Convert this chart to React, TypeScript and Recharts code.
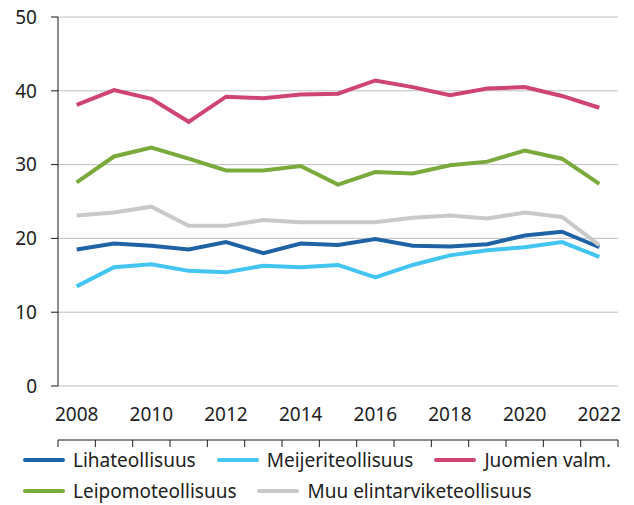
import { LineChart, Line, XAxis, YAxis, CartesianGrid, Legend } from 'recharts';

const YEARS = [2008, 2009, 2010, 2011, 2012, 2013, 2014, 2015, 2016, 2017, 2018, 2019, 2020, 2021, 2022];
const YEAR_LABELS = [2008, 2010, 2012, 2014, 2016, 2018, 2020, 2022];
const Y_TICKS = [0, 10, 20, 30, 40, 50];

const LIHA = [18.5, 19.3, 19.0, 18.5, 19.5, 18.0, 19.3, 19.1, 19.9, 19.0, 18.9, 19.2, 20.4, 20.9, 18.8];
const MEIJERI = [13.5, 16.1, 16.5, 15.6, 15.4, 16.3, 16.1, 16.4, 14.7, 16.4, 17.7, 18.4, 18.8, 19.5, 17.5];
const JUOMAT = [38.1, 40.1, 38.9, 35.8, 39.2, 39.0, 39.5, 39.6, 41.4, 40.5, 39.4, 40.3, 40.5, 39.3, 37.7];
const LEIPOMO = [27.6, 31.1, 32.3, 30.8, 29.2, 29.2, 29.8, 27.3, 29.0, 28.8, 29.9, 30.4, 31.9, 30.8, 27.4];
const MUU = [23.1, 23.5, 24.3, 21.7, 21.7, 22.5, 22.2, 22.2, 22.2, 22.8, 23.1, 22.7, 23.5, 22.9, 19.1];

const SERIES = [
  { key: 'liha', name: 'Lihateollisuus', values: LIHA, color: '#1f63a6' },
  { key: 'meijeri', name: 'Meijeriteollisuus', values: MEIJERI, color: '#43c5f2' },
  { key: 'juomat', name: 'Juomien valm.', values: JUOMAT, color: '#d04473' },
  { key: 'leipomo', name: 'Leipomoteollisuus', values: LEIPOMO, color: '#7aa93c' },
  { key: 'muu', name: 'Muu elintarviketeollisuus', values: MUU, color: '#c9c9c9' },
];

const LEGEND_ROWS = [
  ['liha', 'meijeri', 'juomat'],
  ['leipomo', 'muu'],
];

const data = YEARS.map((year, i) => {
  const row: Record<string, number> = { year };
  SERIES.forEach((s) => {
    row[s.key] = s.values[i];
  });
  return row;
});

// tick marks sit between the years, labels on every other year
const BOUNDARIES = [...YEARS.map((y) => y - 0.5), YEARS[YEARS.length - 1] + 0.5];
const DOMAIN = [BOUNDARIES[0], BOUNDARIES[BOUNDARIES.length - 1]];

const FONT = '"Noto Sans", sans-serif';
const TEXT = '#222';
const AXIS = '#1a1a1a';

function ChartLegend() {
  return (
    <div style={{ height: 64, paddingTop: 3, boxSizing: 'border-box', fontFamily: FONT, fontSize: 19, color: TEXT }}>
      {LEGEND_ROWS.map((row, r) => (
        <div key={r} style={{ display: 'flex', alignItems: 'center', height: 31, paddingLeft: 23, gap: 21 }}>
          {row.map((k) => {
            const s = SERIES.find((x) => x.key === k)!;
            return (
              <div key={k} style={{ display: 'flex', alignItems: 'center', gap: 8 }}>
                <div style={{ width: 42, height: 4, borderRadius: 2, background: s.color }} />
                <span style={{ whiteSpace: 'nowrap' }}>{s.name}</span>
              </div>
            );
          })}
        </div>
      ))}
    </div>
  );
}

export default function App() {
  return (
    <div style={{ position: 'absolute', left: 0, top: 0, width: 634, height: 505, background: '#fff' }}>
      <LineChart width={634} height={505} data={data} margin={{ top: 17, right: 16, left: 0, bottom: 0 }}>
        <CartesianGrid vertical={false} stroke="#bfbfbf" yAxisId="y" xAxisId="marks" />
        <XAxis
          xAxisId="marks"
          dataKey="year"
          type="number"
          domain={DOMAIN}
          ticks={BOUNDARIES}
          interval={0}
          tick={() => <g />}
          tickSize={7}
          height={1}
          axisLine={{ stroke: AXIS }}
          tickLine={{ stroke: AXIS }}
        />
        <XAxis
          xAxisId="main"
          dataKey="year"
          type="number"
          domain={DOMAIN}
          ticks={YEAR_LABELS}
          interval={0}
          axisLine={false}
          tickLine={false}
          tickSize={7}
          tickMargin={15}
          height={54}
          tick={{ fill: TEXT, fontSize: 19, fontFamily: FONT }}
        />
        <YAxis
          yAxisId="y"
          domain={[0, 50]}
          ticks={Y_TICKS}
          width={58}
          tickSize={7}
          tickMargin={14}
          axisLine={{ stroke: AXIS }}
          tickLine={{ stroke: AXIS }}
          tick={{ fill: TEXT, fontSize: 19, fontFamily: FONT }}
        />
        <Legend verticalAlign="bottom" content={() => <ChartLegend />} />
        {SERIES.map((s) => (
          <Line
            key={s.key}
            xAxisId="main"
            yAxisId="y"
            type="linear"
            dataKey={s.key}
            name={s.name}
            stroke={s.color}
            strokeWidth={4}
            dot={false}
            activeDot={false}
            isAnimationActive={false}
          />
        ))}
      </LineChart>
    </div>
  );
}
